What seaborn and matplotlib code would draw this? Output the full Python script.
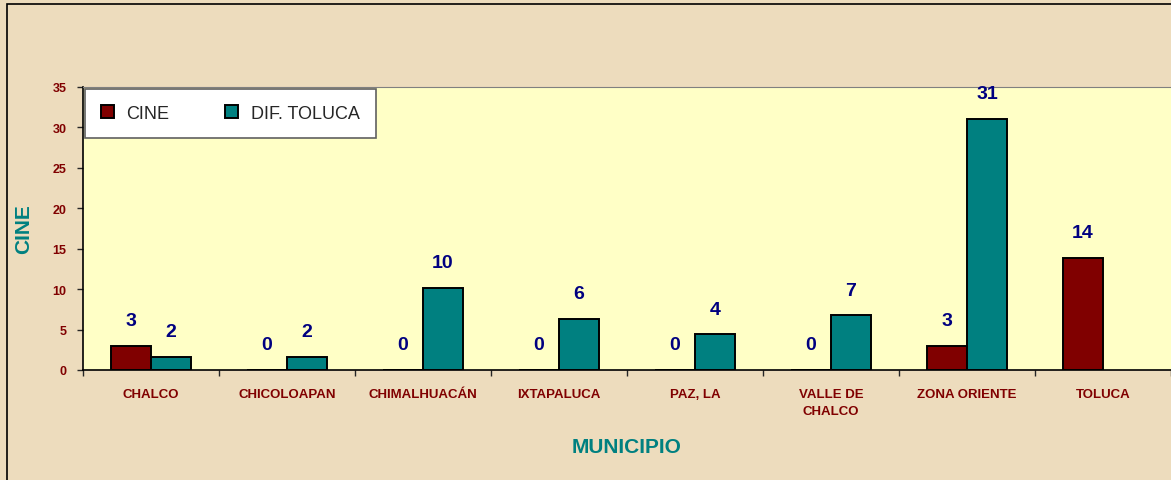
import numpy as np
import pandas as pd
import seaborn as sns
import matplotlib.pyplot as plt
from matplotlib.patches import Rectangle

# datos
municipios = ['CHALCO', 'CHICOLOAPAN', 'CHIMALHUACÁN', 'IXTAPALUCA', 'PAZ, LA',
              'VALLE DE\nCHALCO', 'ZONA ORIENTE', 'TOLUCA']
cine = [3.0, 0, 0, 0, 0, 0, 3.0, 13.9]
dif_toluca = [1.65, 1.65, 10.2, 6.3, 4.4, 6.75, 31.1, np.nan]
series = ['CINE', 'DIF. TOLUCA']
y_ticks = [0, 5, 10, 15, 20, 25, 30, 35]

sns.set_style('white')
plt.rcParams['font.family'] = ['Liberation Sans', 'DejaVu Sans']

df = pd.DataFrame({'Municipio': municipios * 2,
                   'Valor': cine + dif_toluca,
                   'Serie': [series[0]] * len(municipios) + [series[1]] * len(municipios)})

fig = plt.figure(figsize=(11.71, 4.81), dpi=100)
fig.patch.set_facecolor('#EDDCBD')
# marco exterior (solo se ven los bordes izquierdo y superior)
fig.patches.append(Rectangle((7 / 1171, -0.1), 1.2, 1.1 - 5 / 481, transform=fig.transFigure,
                             fill=False, edgecolor='black', linewidth=1.2))

ax = fig.add_axes([83 / 1171, 110 / 481, 1088 / 1171, 283 / 481])
ax.set_facecolor('#FFFFC6')

sns.barplot(ax=ax, data=df, x='Municipio', y='Valor', hue='Serie', order=municipios,
            hue_order=series, palette=['#800000', '#008080'], width=0.59,
            edgecolor='black', linewidth=1.4, saturation=1, errorbar=None)

for cont in ax.containers:
    ax.bar_label(cont, fmt='%.0f', padding=12, color='#000080',
                 fontsize=14, fontweight='bold')

ax.set_ylim(0, 35)
ax.set_xlim(-0.5, 7.5)
ax.set_yticks(y_ticks)
ax.tick_params(axis='y', length=4, width=1, pad=8, labelsize=9, labelcolor='#800000', left=True)
for t in ax.get_yticklabels():
    t.set_fontweight('bold')

ax.set_xticks(range(len(municipios)))
ax.set_xticklabels(municipios, fontsize=9.5, fontweight='bold', color='#800000', linespacing=1.6)
ax.tick_params(axis='x', which='major', length=0, pad=13)
ax.set_xticks(np.arange(-0.5, 8, 1), minor=True)
ax.tick_params(axis='x', which='minor', length=4, width=1, bottom=True)

ax.set_xlabel('MUNICIPIO', fontsize=15, fontweight='bold', color='#008080', labelpad=14)
ax.set_ylabel('CINE', fontsize=15, fontweight='bold', color='#008080', labelpad=14)

for side in ['left', 'bottom']:
    ax.spines[side].set_color('black')
    ax.spines[side].set_linewidth(1.2)
ax.spines['top'].set_color('#808080')
ax.spines['right'].set_visible(False)

leg = ax.legend(loc='upper left', ncol=2, fontsize=13, frameon=True, fancybox=False,
                edgecolor='#606060', facecolor='white', framealpha=1,
                borderaxespad=0.1, borderpad=0.9, columnspacing=3.1,
                handlelength=0.7, handleheight=0.7, handletextpad=0.7,
                bbox_to_anchor=(0, 1.0))
leg.get_frame().set_linewidth(1.2)

fig.savefig('out.png', dpi=100, facecolor=fig.get_facecolor())
